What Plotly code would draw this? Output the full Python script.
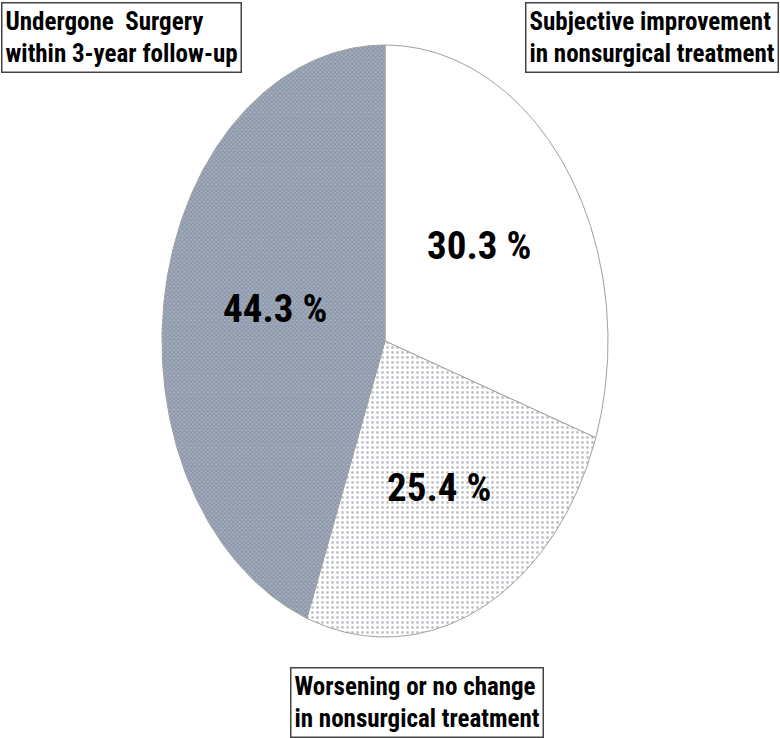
import numpy as np
import plotly.graph_objects as go

# ---- data ----
categories = ["Subjective improvement<br>in nonsurgical treatment",
              "Worsening or no change<br>in nonsurgical treatment",
              "Undergone \u00a0Surgery<br>within 3-year follow-up"]
values = [30.3, 25.4, 44.3]
value_labels = ["30.3 %", "25.4 %", "44.3 %"]

# ---- styles ----
FONT = "Liberation Sans Narrow, Arial Narrow, Roboto Condensed, DejaVu Sans Condensed, Liberation Sans, sans-serif"
label_r = [0.52, 0.57, 0.50]
slice_styles = [
    dict(fillcolor="white", fillpattern=None),
    dict(fillcolor="white", fillpattern=dict(shape=".", fgcolor="#80858f", bgcolor="white", size=5, solidity=0.25)),
    dict(fillcolor="#8a96a8", fillpattern=dict(shape="x", fgcolor="#627086", bgcolor="#a7b1c1", size=3, solidity=0.5)),
]
box_pos = [  # (x px, y px, xanchor) for label boxes
    (779, 2, "right"),
    (290, 667, "left"),
    (1, 2, "left"),
]

W, H = 780, 738
cx, cy, rx, ry = 385, 341, 223, 296

fig = go.Figure()
total = sum(values)
start = 0.0
for i, v in enumerate(values):
    a0 = start / total * 2 * np.pi
    a1 = (start + v) / total * 2 * np.pi
    t = np.linspace(a0, a1, 200)
    xs = np.concatenate([[0], np.sin(t), [0]])
    ys = np.concatenate([[0], np.cos(t), [0]])
    st = slice_styles[i]
    tr = go.Scatter(x=xs, y=ys, mode="lines", fill="toself",
                    fillcolor=st["fillcolor"],
                    line=dict(color="#a0a0a0", width=1),
                    hoverinfo="skip", showlegend=False)
    if st["fillpattern"]:
        tr.fillpattern = st["fillpattern"]
    fig.add_trace(tr)
    am = (a0 + a1) / 2
    fig.add_annotation(x=label_r[i] * np.sin(am), y=label_r[i] * np.cos(am),
                       text="<b>" + value_labels[i] + "</b>", showarrow=False,
                       yshift=6,
                       font=dict(family=FONT, size=39, color="black"))
    start += v

for i, c in enumerate(categories):
    px, py, xa = box_pos[i]
    fig.add_annotation(x=px / W, y=1 - py / H, xref="paper", yref="paper",
                       xanchor=xa, yanchor="top", align="left",
                       text="<b>" + c + "</b>", showarrow=False,
                       font=dict(family=FONT, size=25, color="black"),
                       bordercolor="#444", borderwidth=1.5, borderpad=3,
                       bgcolor="white")

fig.update_layout(
    width=W, height=H, margin=dict(l=0, r=0, t=0, b=0),
    paper_bgcolor="white", plot_bgcolor="white",
    xaxis=dict(range=[-cx / rx, (W - cx) / rx], visible=False, fixedrange=True),
    yaxis=dict(range=[-(H - cy) / ry, cy / ry], visible=False, fixedrange=True),
)
fig.write_html("out.html", config={"displayModeBar": False},
               post_script="document.body.style.margin='0';document.body.style.overflow='hidden';")
